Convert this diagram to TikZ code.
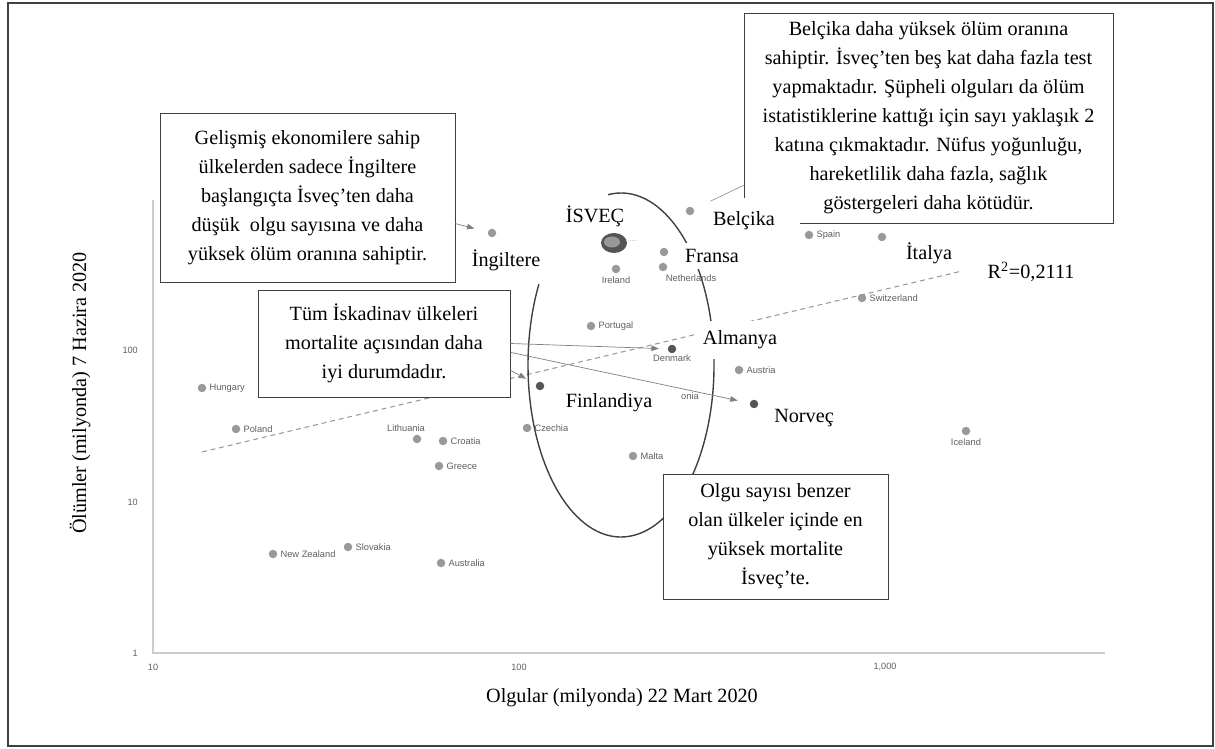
\documentclass[tikz,border=0pt]{standalone}
\usepackage{fontspec}
\setmainfont{Liberation Serif}
\setsansfont{Liberation Sans}
\usetikzlibrary{arrows.meta}
\definecolor{dotgray}{HTML}{999999}
\definecolor{dotdark}{HTML}{555555}
\definecolor{textgray}{HTML}{5F5F5F}
\definecolor{axisgray}{HTML}{CCCCCC}
\definecolor{linegray}{HTML}{7F7F7F}
\definecolor{framegray}{HTML}{404040}

\begin{document}
\begin{tikzpicture}
[   x=0.2mm, y=-0.2mm,
    cdot/.style={circle,fill=#1,minimum size=1.7mm,inner sep=0pt},
    clabel/.style={font=\sffamily\fontsize{5.3}{6}\selectfont,text=textgray,inner sep=1.5pt},
    ticklabel/.style={font=\sffamily\fontsize{5.2}{6}\selectfont,text=textgray},
    biglabel/.style={font=\fontsize{11.5}{14}\selectfont,fill=white},
    notebox/.style={draw=framegray,fill=white,align=center,font=\fontsize{11.5}{16.5}\selectfont},
    pointer/.style={draw=linegray,-{Triangle[length=1.5mm,width=1.1mm]},shorten >=#1},
]
    \useasboundingbox (0,0) rectangle (1215,749);
    \draw[framegray,line width=0.7pt] (8,3) rectangle (1213,746);
    % axes
    \draw[axisgray,line width=0.6pt] (153,200) -- (153,653) -- (1105,653);
    \foreach \v/\y in {1/653,10/502,100/350}
    {   \node[ticklabel,anchor=east] (ty-\v) at (144,\y) {\v};
    }
    \node[ticklabel] (tx-1) at (153,667) {10};
    \node[ticklabel] (tx-2) at (519,667) {100};
    \node[ticklabel] (tx-3) at (885,667) {1,000};
    \node[rotate=90,font=\fontsize{11.5}{14}\selectfont] (ylab) at (80,393) {Ölümler (milyonda) 7 Hazira 2020};
    \node[font=\fontsize{11.5}{14}\selectfont] (xlab) at (622,698) {Olgular (milyonda) 22 Mart 2020};
    % trend line
    \coordinate (t-a) at (202,452);
    \coordinate (t-b) at (962,271);
    \draw[dotgray,dash pattern=on 2.8pt off 2.2pt,line width=0.6pt] (t-a) -- (t-b);
    % ring
    \draw[framegray,line width=0.8pt] (621,365) ++(-98:93 and 172) arc[start angle=-98,end angle=208,x radius=93,y radius=172];
    % countries
    \foreach \x/\y/\n/\a/\t in {202/388/hu/0/Hungary, 236/429/pl/0/Poland,
        443/441/hr/0/Croatia, 439/466/gr/0/Greece, 527/428/cz/0/Czechia, 273/554/nz/0/New Zealand,
        348/547/sk/0/Slovakia, 441/563/au/0/Australia, 633/456/mt/0/Malta, 966/431/is/-90/Iceland,
        862/298/ch/0/Switzerland, 809/235/es/0/Spain, 739/370/at/0/Austria, 591/326/pt/0/Portugal,
        616/269/ie/-90/Ireland}
    {   \node[cdot=dotgray,label={[clabel]\a:\t}] (c-\n) at (\x,\y) {};
    }
    \foreach \x/\y/\n in {492/233/uk, 690/211/be, 664/252/fr, 882/237/it}
    {   \node[cdot=dotgray] (c-\n) at (\x,\y) {};
    }
    \node[cdot=dotgray,label={[clabel,xshift=-2.2mm]90:Lithuania}] (c-lt) at (417,439) {};
    \node[cdot=dotgray,label={[clabel,anchor=north west]-90:Netherlands}] (c-nl) at (663,267) {};
    \node[cdot=dotdark,label={[clabel,inner sep=0.5pt]-90:Denmark}] (c-dk) at (672,349) {};
    \node[cdot=dotdark] (c-no) at (754,404) {};
    \node[cdot=dotdark] (c-fi) at (540,386) {};
    \node[clabel] (c-ee) at (690,396) {onia};
    % sweden
    \fill[dotdark] (614,243) ellipse[x radius=13,y radius=10];
    \fill[dotgray] (612,242) ellipse[x radius=8,y radius=5.5];
    \draw[dotgray,densely dotted] (628,241) -- (638,240);
    % names
    \node[biglabel] (l-uk) at (506,260) {İngiltere};
    \node[biglabel] (l-se) at (595,216) {İSVEÇ};
    \node[biglabel] (l-fr) at (712,256) {Fransa};
    \node[biglabel] (l-it) at (929,253) {İtalya};
    \node[biglabel,inner ysep=2mm] (l-de) at (740,340) {Almanya};
    \node[biglabel] (l-fi) at (609,403) {Finlandiya};
    \node[biglabel] (l-no) at (804,418) {Norveç};
    \node[biglabel] (l-r2) at (1031,272) {R\textsuperscript{2}=0,2111};
    % notes
    \node[notebox,minimum width=59mm,minimum height=33.8mm] (n-uk) at (307.5,197.5)
        {Gelişmiş ekonomilere sahip\\ülkelerden sadece İngiltere\\başlangıçta İsveç’ten daha\\düşük\ \ olgu sayısına ve daha\\yüksek ölüm oranına sahiptir.};
    \node[notebox,minimum width=50.4mm,minimum height=21.4mm] (n-sc) at (384,343.5)
        {Tüm İskadinav ülkeleri\\mortalite açısından daha\\iyi durumdadır.};
    \node[notebox,minimum width=73.8mm,minimum height=42mm] (n-be) at (928.5,118)
        {Belçika daha yüksek ölüm oranına\\sahiptir. İsveç’ten beş kat daha fazla test\\yapmaktadır. Şüpheli olguları da ölüm\\istatistiklerine kattığı için sayı yaklaşık 2\\katına çıkmaktadır. Nüfus yoğunluğu,\\hareketlilik daha fazla, sağlık\\göstergeleri daha kötüdür.};
    \node[notebox,minimum width=45mm,minimum height=25mm] (n-se) at (775.5,536.5)
        {Olgu sayısı benzer\\olan ülkeler içinde en\\yüksek mortalite\\İsveç’te.};
    \node[biglabel,anchor=west,text width=17mm,inner xsep=1pt,minimum height=9mm] (l-be) at (711,221) {Belçika};
    % pointers
    \draw[pointer=2.7mm] (n-uk.-10) -- (c-uk);
    \draw[pointer=1.7mm] (n-sc.east) -- (c-dk);
    \draw[pointer=2.4mm] (n-sc.-4) -- (c-no);
    \draw[pointer=2.2mm] (n-sc.-12) -- (c-fi);
    \draw[dotgray,shorten >=3.6mm] (n-be.200) -- (c-be);
\end{tikzpicture}
\end{document}
